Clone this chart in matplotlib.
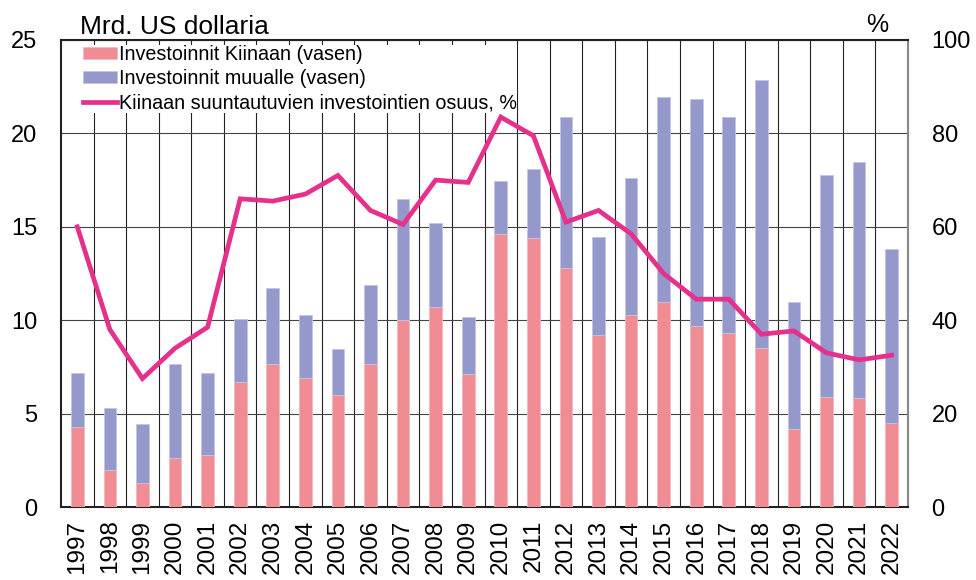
import numpy as np
import matplotlib
matplotlib.use("Agg")
import matplotlib.pyplot as plt
from matplotlib.patches import Patch
from matplotlib.lines import Line2D

plt.rcParams['font.family'] = ['Liberation Sans', 'DejaVu Sans']

years = [str(y) for y in range(1997, 2023)]
# bn. USD
china = [4.3, 2.0, 1.3, 2.6, 2.8, 6.7, 7.65, 6.9, 6.0, 7.65, 10.0, 10.7, 7.1,
         14.6, 14.4, 12.8, 9.2, 10.3, 11.0, 9.7, 9.3, 8.5, 4.2, 5.9, 5.85, 4.5]
total = [7.2, 5.3, 4.45, 7.65, 7.2, 10.05, 11.7, 10.3, 8.45, 11.9, 16.5, 15.2, 10.15,
         17.45, 18.1, 20.9, 14.45, 17.6, 21.95, 21.85, 20.9, 22.85, 11.0, 17.75, 18.45, 13.8]
other = [t - c for t, c in zip(total, china)]
# share of China, %
share = [60, 38, 27.5, 34, 38.5, 66, 65.5, 67, 71, 63.5, 60.5, 70, 69.5,
         83.5, 79.5, 61, 63.5, 58.5, 50, 44.5, 44.5, 37, 37.7, 33, 31.5, 32.5]

pink = '#F08C93'
blue = '#9498CA'
magenta = '#E5318B'

fig = plt.figure(figsize=(9.76, 5.8), dpi=100)
ax = fig.add_axes([61/976, 73/580, 847/976, 467/580])
x = np.arange(len(years))

ax.bar(x, china, width=0.39, color=pink, edgecolor='#F6B8BD', linewidth=0.6, zorder=3)
ax.bar(x, other, bottom=china, width=0.39, color=blue, edgecolor='#C3C5E6', linewidth=0.6, zorder=3)

ax.set_xlim(-0.5, len(years) - 0.5)
ax.set_ylim(0, 25)
ax.set_yticks([0, 5, 10, 15, 20, 25])
ax.set_xticks(x)
ax.set_xticklabels(years, rotation=90, va='top', ha='center')
ax.set_xticks(x[:-1] + 0.5, minor=True)
ax.tick_params(axis='both', which='both', length=0)
ax.tick_params(axis='y', pad=17, labelsize=17)
ax.tick_params(axis='x', pad=9, labelsize=17.5)
ax.grid(axis='x', which='minor', color='#222222', linewidth=0.8, zorder=1)
ax.grid(axis='y', which='major', color='#444444', linewidth=0.8, zorder=1)
ax.set_axisbelow(True)

for s in ['left', 'bottom', 'top']:
    ax.spines[s].set_color('#222222')
    ax.spines[s].set_linewidth(1.5)
ax.spines['right'].set_color('#888888')
ax.spines['right'].set_linewidth(1.5)

ax2 = ax.twinx()
ax2.plot(x, share, color=magenta, linewidth=3.4, zorder=4, solid_joinstyle='miter')
ax2.set_ylim(0, 100)
ax2.set_yticks([0, 20, 40, 60, 80, 100])
ax2.tick_params(axis='y', length=0, labelsize=17, pad=17)
for s in ax2.spines.values():
    s.set_visible(False)

fig.text(80/976, 1 - 34/580, 'Mrd. US dollaria', fontsize=19, ha='left', va='baseline')
fig.text(888/976, 1 - 32/580, '%', fontsize=18, ha='right', va='baseline')

handles = [Patch(facecolor=pink, edgecolor='#F6B8BD', linewidth=0.6),
           Patch(facecolor=blue, edgecolor='#C3C5E6', linewidth=0.6),
           Line2D([], [], color=magenta, linewidth=3.4)]
labels = ['Investoinnit Kiinaan (vasen)', 'Investoinnit muualle (vasen)',
          'Kiinaan suuntautuvien investointien osuus, %']
leg = ax2.legend(handles, labels, loc='upper left', bbox_to_anchor=(22/847, 1 - 5/467),
                 fontsize=14.2, frameon=True, fancybox=False, framealpha=1,
                 edgecolor='none', facecolor='white', handlelength=1.7,
                 handleheight=0.55, handletextpad=0.15, labelspacing=0.27,
                 borderpad=0.0, borderaxespad=0)
leg.set_zorder(3)

fig.savefig('out.png', dpi=100)
